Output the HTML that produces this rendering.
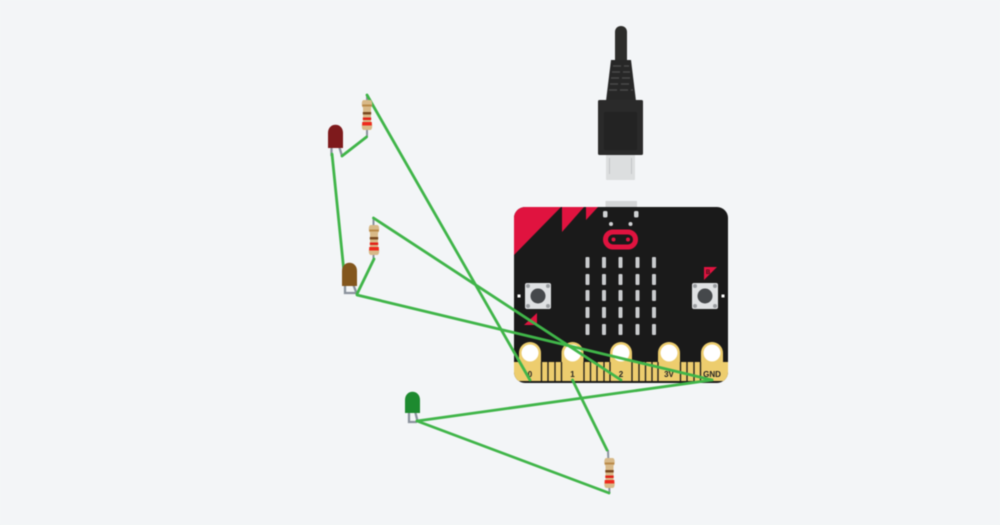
<!DOCTYPE html>
<html><head><meta charset="utf-8"><style>html,body{margin:0;padding:0;width:1000px;height:525px;background:#f3f5f7;overflow:hidden}svg{display:block;filter:blur(.45px)}text{font-family:"Liberation Sans",sans-serif;font-weight:700;font-size:8px;fill:#222;text-anchor:middle}</style></head><body>
<svg width="1000" height="525" viewBox="0 0 1000 525" xmlns="http://www.w3.org/2000/svg">
<defs>
<clipPath id="b"><rect x="514" y="207" width="214" height="176" rx="11"/></clipPath>
<g id="res">
<path d="M-3-15C-5-15-5.500-12-5-9L-4-7V7L-5 9C-5.500 12-5 15-3 15H3C5 15 5.500 12 5 9L4 7V-7L5-9C5.500-12 5-15 3-15Z" fill="#d8b988"/>
<rect x="-4.800" y="-10.500" width="9.600" height="2" fill="#b98a4a"/>
<rect x="-4.200" y="-3" width="8.400" height="2.500" fill="#7a4a20"/>
<rect x="-4.200" y="2.500" width="8.400" height="2.500" fill="#e2231a"/>
<rect x="-4.800" y="7" width="9.600" height="3.500" fill="#ee2a1e"/>
</g>
<g id="btn">
<rect x="-13" y="-13" width="26" height="26" rx="2" fill="#dfe1e3"/>
<circle cx="-10" cy="-10" r="2" fill="#9a9da0"/><circle cx="10" cy="-10" r="2" fill="#9a9da0"/><circle cx="-10" cy="10" r="2" fill="#9a9da0"/><circle cx="10" cy="10" r="2" fill="#9a9da0"/>
<circle r="7.500" fill="#45484b"/>
</g>
</defs>
<rect width="1000" height="525" fill="#f3f5f7"/>

<!-- USB -->
<rect x="606" y="154" width="29" height="26" rx="1" fill="#dcdedf"/>
<rect x="609" y="158" width="1" height="16" fill="#c3c5c7"/><rect x="631" y="158" width="1" height="16" fill="#c3c5c7"/>
<path d="M615 60V32C615 24 627 24 627 32V60Z" fill="#2d2d2b"/>
<path d="M611 60H631L636 101H606Z" fill="#272727"/>
<path d="M613 66H629M612 72H630M611 78H631M610 84H632M609 90H633" stroke="#4a4a4a" stroke-width="1.500" stroke-dasharray="8 3"/>
<rect x="598" y="100" width="45" height="55" rx="1.500" fill="#2a2a2a"/>
<rect x="604" y="112" width="33" height="38" fill="#232323"/>

<!-- board -->
<rect x="605.500" y="201" width="31.500" height="8" fill="#d4d6d7"/>
<rect x="514" y="207" width="214" height="176" rx="11" fill="#1a1a1a"/>
<g clip-path="url(#b)">
<path d="M510 207H561L514 255H510Z" fill="#e0133f"/>
<path d="M562 207H584L562 232Z" fill="#e0133f"/>
<path d="M586 207H598L586 220Z" fill="#e0133f"/>
<rect x="510" y="362" width="222" height="19" fill="#edcd6e"/>
<g fill="#edcd6e">
<rect x="519" y="353" width="22" height="12"/><rect x="561.500" y="353" width="22" height="12"/><rect x="610" y="353" width="22" height="12"/><rect x="658" y="353" width="22" height="12"/><rect x="701" y="353" width="22" height="12"/>
</g>
<path d="M541.500 362V381M548 362V381M555 362V381M561.500 362V381M584 362V381M590.500 362V381M597 362V381M604 362V381M610 362V381M632 362V381M639 362V381M645.500 362V381M652 362V381M658 362V381M680.500 362V381M687 362V381M694 362V381M700.500 362V381" stroke="#1a1a1a" stroke-width="1.300"/>
</g>
<g fill="#edcd6e"><circle cx="530" cy="353" r="11"/><circle cx="572.500" cy="353" r="11"/><circle cx="621" cy="353" r="11"/><circle cx="669" cy="353" r="11"/><circle cx="712" cy="353" r="11"/></g>
<g fill="#fff"><circle cx="530" cy="353" r="8.500"/><circle cx="572.500" cy="353" r="8.500"/><circle cx="621" cy="353" r="8.500"/><circle cx="669" cy="353" r="8.500"/><circle cx="712" cy="353" r="8.500"/></g>
<text x="530" y="377">0</text><text x="572.500" y="377">1</text><text x="621" y="377">2</text><text x="669" y="377">3V</text><text x="712" y="377">GND</text>

<rect x="605.500" y="232" width="30" height="15" rx="7.500" fill="#1a1a1a" stroke="#e0133f" stroke-width="5"/>
<circle cx="613.500" cy="239.500" r="2" fill="#e0133f"/><circle cx="628" cy="239.500" r="2" fill="#e0133f"/>
<g fill="#cfd1d3"><rect x="603" y="211" width="4.500" height="6.500" rx="1.500"/><rect x="634" y="211" width="4.500" height="6.500" rx="1.500"/><circle cx="611" cy="224" r="2"/><circle cx="630.500" cy="224" r="2"/></g>
<g fill="#c9cbcd">
<rect x="585.500" y="257" width="4" height="11" rx="1"/><rect x="602" y="257" width="4" height="11" rx="1"/><rect x="618.500" y="257" width="4" height="11" rx="1"/><rect x="635.500" y="257" width="4" height="11" rx="1"/><rect x="652" y="257" width="4" height="11" rx="1"/>
<rect x="585.500" y="274" width="4" height="11" rx="1"/><rect x="602" y="274" width="4" height="11" rx="1"/><rect x="618.500" y="274" width="4" height="11" rx="1"/><rect x="635.500" y="274" width="4" height="11" rx="1"/><rect x="652" y="274" width="4" height="11" rx="1"/>
<rect x="585.500" y="290" width="4" height="11" rx="1"/><rect x="602" y="290" width="4" height="11" rx="1"/><rect x="618.500" y="290" width="4" height="11" rx="1"/><rect x="635.500" y="290" width="4" height="11" rx="1"/><rect x="652" y="290" width="4" height="11" rx="1"/>
<rect x="585.500" y="307" width="4" height="11" rx="1"/><rect x="602" y="307" width="4" height="11" rx="1"/><rect x="618.500" y="307" width="4" height="11" rx="1"/><rect x="635.500" y="307" width="4" height="11" rx="1"/><rect x="652" y="307" width="4" height="11" rx="1"/>
<rect x="585.500" y="324" width="4" height="11" rx="1"/><rect x="602" y="324" width="4" height="11" rx="1"/><rect x="618.500" y="324" width="4" height="11" rx="1"/><rect x="635.500" y="324" width="4" height="11" rx="1"/><rect x="652" y="324" width="4" height="11" rx="1"/>
</g>
<use href="#btn" x="538" y="296"/><use href="#btn" x="705" y="296"/>
<rect x="517.500" y="294.500" width="3" height="3" fill="#fff"/><rect x="721.500" y="294.500" width="3" height="3" fill="#fff"/>
<path d="M704 267H717L704 280Z" fill="#e0133f"/>
<text x="708" y="274" style="font-size:6px;fill:#3a1018">B</text>
<path d="M524 325L537 313V325Z" fill="#e0133f"/>

<!-- resistor leads -->
<path d="M367 94V137M373.500 218V259M608 450L609.500 493" stroke="#8a929c" stroke-width="2" fill="none"/>
<!-- LED leads -->
<path d="M331.500 146V156M339 146L342 156" stroke="#8a929c" stroke-width="2.300" fill="none"/>
<path d="M345 284V293H356M353 284L356.500 293" stroke="#8a929c" stroke-width="2.300" fill="none"/>
<path d="M409 411V422H417M415 411L417.500 421" stroke="#8a929c" stroke-width="2.300" fill="none"/>

<!-- wires -->
<g stroke="#40b549" stroke-width="2.800" fill="none" stroke-linecap="round" stroke-linejoin="round">
<path d="M332 154L344 272"/>
<path d="M342 156L366.500 137"/>
<path d="M367 95L530 380"/>
<path d="M357 294L374 259"/>
<path d="M373.500 218L621 380"/>
<path d="M357 295L712 380"/>
<path d="M572.500 380L607 450"/>
<path d="M609 493L417 421"/>
<path d="M417 421L712 380"/>
</g>

<!-- resistors -->
<use href="#res" x="367" y="115"/>
<use href="#res" x="374" y="240"/>
<use href="#res" x="609.500" y="473"/>

<!-- LEDs -->
<path d="M328 148V133C328 122 343 122 343 133V148Z" fill="#7e1a1c"/>
<path d="M342 286V271C342 260 357 260 357 271V286Z" fill="#83561d"/>
<path d="M405 413V400C405 389 420 389 420 400V413Z" fill="#1d8a2f"/>
</svg>
</body></html>
